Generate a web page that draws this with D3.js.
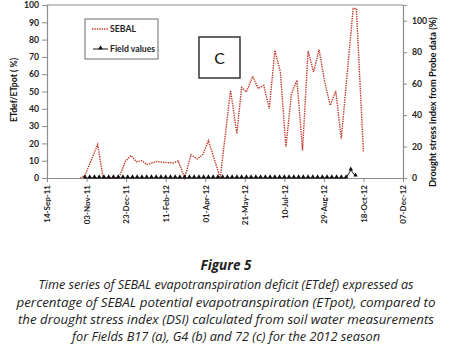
<!DOCTYPE html>
<html>
<head>
<meta charset="utf-8">
<script src="https://cdn.jsdelivr.net/npm/d3@7"></script>
<style>
  body { margin: 0; background: #fff; }
  svg { display: block; }
  text { font-family: Lato, "Open Sans", sans-serif; }
</style>
</head>
<body>
<div id="chart"></div>
<script>
// SEBAL ETdef/ETpot (%), left axis
const sebalDates = ["26-Oct-11","01-Nov-11","17-Nov-11","24-Nov-11","01-Dec-11","08-Dec-11","14-Dec-11",
  "22-Dec-11","29-Dec-11","05-Jan-12","12-Jan-12","18-Jan-12","30-Jan-12","12-Feb-12","20-Feb-12",
  "27-Feb-12","06-Mar-12","14-Mar-12","22-Mar-12","29-Mar-12","05-Apr-12","20-Apr-12","03-May-12",
  "11-May-12","17-May-12","23-May-12","31-May-12","07-Jun-12","14-Jun-12","21-Jun-12","28-Jun-12",
  "05-Jul-12","12-Jul-12","19-Jul-12","26-Jul-12","02-Aug-12","09-Aug-12","16-Aug-12","23-Aug-12",
  "30-Aug-12","06-Sep-12","13-Sep-12","20-Sep-12","05-Oct-12","09-Oct-12","18-Oct-12"];
const sebalValues = [0,1.5,19.3,0,0,0,0,
  9.6,13,9.4,10,7.7,9.5,8.9,8.7,
  9.8,0,13.5,11,13.5,21.6,0,50.7,
  25.7,52.3,49.7,58.8,51.7,53.6,40.1,73.8,
  61.3,17.9,48.8,56.5,16,73.4,61.3,74.2,
  55.5,42,50.3,22.8,98,98,15];

// field drought stress index (%), right axis
const fieldDates = ["01-Nov-11","07-Nov-11","13-Nov-11","19-Nov-11","25-Nov-11","01-Dec-11","07-Dec-11",
  "13-Dec-11","19-Dec-11","25-Dec-11","31-Dec-11","06-Jan-12","12-Jan-12","18-Jan-12","24-Jan-12",
  "30-Jan-12","05-Feb-12","11-Feb-12","17-Feb-12","23-Feb-12","29-Feb-12","06-Mar-12","12-Mar-12",
  "18-Mar-12","24-Mar-12","30-Mar-12","05-Apr-12","11-Apr-12","17-Apr-12","23-Apr-12","29-Apr-12",
  "05-May-12","11-May-12","17-May-12","23-May-12","29-May-12","04-Jun-12","10-Jun-12","16-Jun-12",
  "22-Jun-12","28-Jun-12","04-Jul-12","10-Jul-12","16-Jul-12","22-Jul-12","28-Jul-12","03-Aug-12",
  "09-Aug-12","15-Aug-12","21-Aug-12","27-Aug-12","02-Sep-12","08-Sep-12","14-Sep-12","20-Sep-12",
  "26-Sep-12","02-Oct-12","08-Oct-12"];
const fieldValues = [0,0,0,0,0,0,0,
  0,0,0,0,0,0,0,0,
  0,0,0,0,0,0,0,0,
  0,0,0,0,0,0,0,0,
  0,0,0,0,0,0,0,0,
  0,0,0,0,0,0,0,0,
  0,0,0,0,0,0,0,0,
  0,5,1.2];

const xTickLabels = ["14-Sep-11","03-Nov-11","23-Dec-11","11-Feb-12","01-Apr-12","21-May-12",
  "10-Jul-12","29-Aug-12","18-Oct-12","07-Dec-12"];
const leftTicks = [0,10,20,30,40,50,60,70,80,90,100];
const rightTicks = [0,20,40,60,80,100];

const captionTitle = "Figure 5";
const captionLines = [
  "Time series of SEBAL evapotranspiration deficit (ETdef) expressed as",
  "percentage of SEBAL potential evapotranspiration (ETpot), compared to",
  "the drought stress index (DSI) calculated from soil water measurements",
  "for Fields B17 (a), G4 (b) and 72 (c) for the 2012 season"
];

const W = 455, H = 347;
const plotL = 47, plotR = 403, plotT = 5, plotB = 178;
const parse = d3.timeParse("%d-%b-%y");

const svg = d3.select("#chart").append("svg")
  .attr("width", W).attr("height", H);

const x = d3.scaleTime()
  .domain([parse(xTickLabels[0]), parse(xTickLabels[xTickLabels.length - 1])])
  .range([plotL, plotR]);
const yL = d3.scaleLinear().domain([0, 100]).range([plotB, plotT]);
const yR = d3.scaleLinear().domain([0, 110]).range([plotB, plotT]);

// frame top line
svg.append("line")
  .attr("x1", plotL).attr("x2", plotR).attr("y1", plotT).attr("y2", plotT)
  .attr("stroke", "#8c8c8c").attr("stroke-width", 1);

// left axis
const gL = svg.append("g")
  .attr("transform", "translate(" + plotL + ",0)")
  .call(d3.axisLeft(yL).tickValues(leftTicks).tickSize(5).tickPadding(3));
// right axis
const gR = svg.append("g")
  .attr("transform", "translate(" + plotR + ",0)")
  .call(d3.axisRight(yR).tickValues(rightTicks).tickSize(4).tickPadding(5));
// x axis
const gX = svg.append("g")
  .attr("transform", "translate(0," + plotB + ")")
  .call(d3.axisBottom(x).tickValues(xTickLabels.map(parse))
    .tickFormat(d3.timeFormat("%d-%b-%y")).tickSize(4).tickSizeOuter(0));

[gL, gR, gX].forEach(g => {
  g.select(".domain").attr("stroke", "#8c8c8c").attr("stroke-width", 1.2);
  g.selectAll(".tick line").attr("stroke", "#8c8c8c");
  g.selectAll("text").attr("fill", "#222").style("font-size", "8.7px")
    .style("font-family", "Lato, sans-serif").style("font-weight", "bold");
});
gX.selectAll(".tick text")
  .attr("transform", "rotate(-90)")
  .attr("text-anchor", "end")
  .attr("x", -7).attr("y", 0).attr("dy", "0.35em")
  .style("font-size", "8px");

// axis titles
svg.append("text")
  .attr("transform", "translate(17,90) rotate(-90)")
  .attr("text-anchor", "middle")
  .style("font-size", "8.7px").style("font-weight", "bold").attr("fill", "#111")
  .text("ETdef/ETpot ( %)");
svg.append("text")
  .attr("transform", "translate(436,102) rotate(-90)")
  .attr("text-anchor", "middle")
  .style("font-size", "9.3px").style("font-weight", "bold").attr("fill", "#111")
  .text("Drought stress index from Probe data (%)");

// SEBAL series
const sebal = sebalDates.map((d, i) => ({ date: parse(d), v: sebalValues[i] }));
svg.append("path")
  .datum(sebal)
  .attr("fill", "none")
  .attr("stroke", "#c0392b")
  .attr("stroke-width", 1.4)
  .attr("stroke-dasharray", "1.4,1")
  .attr("d", d3.line().x(d => x(d.date)).y(d => yL(d.v)));

// field series
const field = fieldDates.map((d, i) => ({ date: parse(d), v: fieldValues[i] }));
svg.append("path")
  .datum(field)
  .attr("fill", "none")
  .attr("stroke", "#111")
  .attr("stroke-width", 1)
  .attr("d", d3.line().x(d => x(d.date)).y(d => yR(d.v)));
const tri = d3.symbol().type(d3.symbolTriangle).size(9);
svg.append("g").selectAll("path")
  .data(field)
  .enter().append("path")
  .attr("d", tri)
  .attr("transform", d => "translate(" + x(d.date) + "," + (yR(d.v) - 1) + ")")
  .attr("fill", "#111");

// legend
const lg = svg.append("g");
lg.append("rect").attr("x", 85).attr("y", 19).attr("width", 73).attr("height", 40)
  .attr("fill", "#fff").attr("stroke", "#6a6a6a").attr("stroke-width", 1);
lg.append("line").attr("x1", 92).attr("x2", 108).attr("y1", 29).attr("y2", 29)
  .attr("stroke", "#c0392b").attr("stroke-width", 1.4).attr("stroke-dasharray", "1.4,1");
lg.append("text").attr("x", 110).attr("y", 32)
  .style("font-size", "8.7px").style("font-weight", "bold").attr("fill", "#222").text("SEBAL");
lg.append("line").attr("x1", 93).attr("x2", 108).attr("y1", 49).attr("y2", 49)
  .attr("stroke", "#111").attr("stroke-width", 1);
lg.append("path").attr("d", tri).attr("transform", "translate(100.5,48)").attr("fill", "#111");
lg.append("text").attr("x", 110).attr("y", 52)
  .style("font-size", "8.7px").style("font-weight", "bold").attr("fill", "#222").text("Field values");

// panel label
svg.append("rect").attr("x", 199).attr("y", 37).attr("width", 41).attr("height", 41)
  .attr("fill", "#fff").attr("stroke", "#333").attr("stroke-width", 1.5);
svg.append("text").attr("x", 219.5).attr("y", 63.5).attr("text-anchor", "middle")
  .style("font-size", "16px").attr("fill", "#111").text("C");

// caption
svg.append("text").attr("x", 226).attr("y", 270).attr("text-anchor", "middle")
  .style("font-family", "'Open Sans', sans-serif").style("font-style", "italic")
  .style("font-weight", "bold").style("font-size", "13.5px").attr("fill", "#222")
  .text(captionTitle);
const capWidths = [375, 419, 416, 308];
const capY = [289, 307, 324, 341];
captionLines.forEach((t, i) => {
  svg.append("text").attr("x", 226).attr("y", capY[i]).attr("text-anchor", "middle")
    .style("font-family", "'Open Sans', sans-serif").style("font-style", "italic")
    .style("font-size", "13px").attr("fill", "#222")
    .attr("textLength", capWidths[i]).attr("lengthAdjust", "spacingAndGlyphs")
    .text(t);
});
</script>
</body>
</html>
